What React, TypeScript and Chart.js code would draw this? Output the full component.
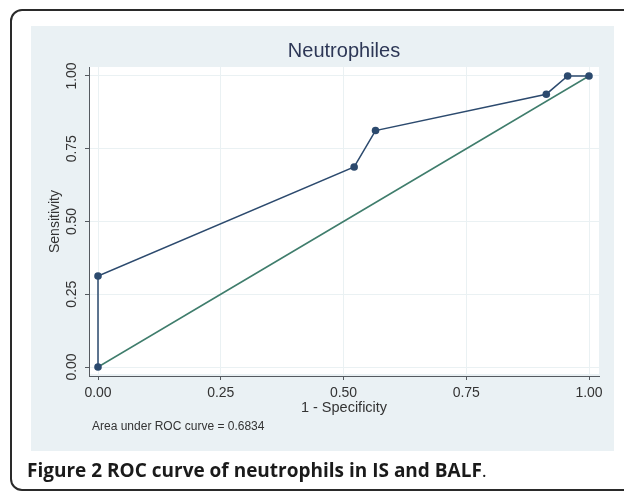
import React, { useEffect, useRef } from "react";
import { Chart, registerables } from "chart.js";

Chart.register(...registerables);

// ---- data ----
const rocX: number[] = [0, 0, 0.5217, 0.5652, 0.913, 0.9565, 1];
const rocY: number[] = [0, 0.3125, 0.6875, 0.8125, 0.9375, 1, 1];
const refX: number[] = [0, 1];
const refY: number[] = [0, 1];
const xTickValues: number[] = [0, 0.25, 0.5, 0.75, 1];
const xTickLabels: string[] = ["0.00", "0.25", "0.50", "0.75", "1.00"];
const yTickValues: number[] = [0, 0.25, 0.5, 0.75, 1];
const yTickLabels: string[] = ["0.00", "0.25", "0.50", "0.75", "1.00"];
const chartTitle = "Neutrophiles";
const xAxisTitle = "1 - Specificity";
const yAxisTitle = "Sensitivity";
const noteText = "Area under ROC curve = 0.6834";

const FONT = "'Liberation Sans', Arial, sans-serif";
const NAVY = "#2c4a6e";
const GREEN = "#3f7d6c";
const GRID = "#eaf1f3";
const AXIS = "#555a60";

const textPlugin = {
  id: "stataText",
  beforeDraw(chart: any) {
    const { ctx, chartArea } = chart;
    ctx.save();
    ctx.fillStyle = "#ffffff";
    ctx.fillRect(chartArea.left + 1, chartArea.top, chartArea.right - chartArea.left - 1, chartArea.bottom - chartArea.top - 2);
    ctx.restore();
  },
  afterDraw(chart: any) {
    const { ctx, chartArea } = chart;
    const yScale = chart.scales.y;
    const xScale = chart.scales.x;
    const cx = (chartArea.left + chartArea.right) / 2;
    const cy = (chartArea.top + chartArea.bottom) / 2;
    ctx.save();
    // title
    ctx.fillStyle = "#2d3756";
    ctx.font = `20px ${FONT}`;
    ctx.textAlign = "center";
    ctx.textBaseline = "middle";
    ctx.fillText(chartTitle, cx, 51);
    // y tick labels (rotated)
    ctx.fillStyle = "#333333";
    ctx.font = `14px ${FONT}`;
    yTickValues.forEach((v, i) => {
      const py = yScale.getPixelForValue(v);
      ctx.save();
      ctx.translate(72, py);
      ctx.rotate(-Math.PI / 2);
      ctx.fillText(yTickLabels[i], 0, 0);
      ctx.restore();
    });
    // y axis title
    ctx.save();
    ctx.translate(55, cy);
    ctx.rotate(-Math.PI / 2);
    ctx.fillText(yAxisTitle, 0, 0);
    ctx.restore();
    // x axis title
    ctx.font = `14.5px ${FONT}`;
    ctx.fillText(xAxisTitle, cx, 408);
    // note
    ctx.font = `12px ${FONT}`;
    ctx.textAlign = "left";
    ctx.fillText(noteText, xScale.left + 3, 427);
    ctx.restore();
  },
};

export default function App() {
  const canvasRef = useRef<HTMLCanvasElement | null>(null);

  useEffect(() => {
    if (!canvasRef.current) return;
    const rocData = rocX.map((x, i) => ({ x, y: rocY[i] }));
    const refData = refX.map((x, i) => ({ x, y: refY[i] }));
    const chart = new Chart(canvasRef.current, {
      type: "scatter",
      data: {
        datasets: [
          {
            label: "ROC",
            data: rocData,
            showLine: true,
            borderColor: NAVY,
            backgroundColor: NAVY,
            borderWidth: 1.5,
            pointRadius: 3.8,
            pointHoverRadius: 3.8,
            pointBorderWidth: 0,
            order: 1,
          },
          {
            label: "Reference",
            data: refData,
            showLine: true,
            borderColor: GREEN,
            backgroundColor: GREEN,
            borderWidth: 1.5,
            pointRadius: 0,
            order: 2,
          },
        ],
      },
      options: {
        animation: false,
        responsive: false,
        devicePixelRatio: 1,
        layout: { padding: { left: 0, top: 67, right: 25, bottom: 89 } },
        plugins: {
          legend: { display: false },
          tooltip: { enabled: false },
          title: { display: false },
        },
        scales: {
          x: {
            type: "linear",
            min: -9 / 491,
            max: 1 + 10 / 491,
            afterBuildTicks: (scale: any) => {
              scale.ticks = xTickValues.map((v) => ({ value: v }));
            },
            afterFit: (scale: any) => {
              scale.height = 30;
            },
            ticks: {
              color: "#333333",
              font: { family: FONT, size: 14 },
              padding: 5,
              callback: (value: any) => {
                const i = xTickValues.indexOf(Number(value));
                return i >= 0 ? xTickLabels[i] : "";
              },
            },
            grid: {
              color: GRID,
              lineWidth: 1,
              drawTicks: true,
              tickLength: 4,
              tickColor: AXIS,
            },
            border: { display: true, color: AXIS, width: 1 },
          },
          y: {
            type: "linear",
            min: -9 / 291,
            max: 1 + 9 / 291,
            afterBuildTicks: (scale: any) => {
              scale.ticks = yTickValues.map((v) => ({ value: v }));
            },
            afterFit: (scale: any) => {
              scale.width = 89;
            },
            ticks: { display: false },
            grid: {
              color: GRID,
              lineWidth: 1,
              drawTicks: true,
              tickLength: 4,
              tickColor: AXIS,
            },
            border: { display: true, color: AXIS, width: 1 },
          },
        },
      },
      plugins: [textPlugin],
    });
    return () => chart.destroy();
  }, []);

  return (
    <div
      style={{
        position: "fixed",
        left: 0,
        top: 0,
        width: 624,
        height: 495,
        overflow: "hidden",
        background: "#ffffff",
      }}
    >
      <div
        style={{
          position: "absolute",
          left: 10,
          top: 9,
          width: 700,
          height: 482,
          boxSizing: "border-box",
          border: "2px solid #2a2a2a",
          borderRadius: 12,
        }}
      />
      <div
        style={{
          position: "absolute",
          left: 31,
          top: 26,
          width: 583,
          height: 425,
          background: "#eaf1f4",
        }}
      />
      <canvas
        ref={canvasRef}
        width={624}
        height={495}
        style={{ position: "absolute", left: 0, top: 0, width: 624, height: 495 }}
      />
      <div
        style={{
          position: "absolute",
          left: 27,
          top: 456,
          lineHeight: "28px",
          fontFamily: "'Open Sans', 'Noto Sans', sans-serif",
          fontSize: 19,
          color: "#1a1a1a",
          whiteSpace: "nowrap",
        }}
      >
        <span style={{ fontWeight: 700 }}>Figure 2 ROC curve of neutrophils in IS and BALF</span>
        <span style={{ fontWeight: 400 }}>.</span>
      </div>
    </div>
  );
}
